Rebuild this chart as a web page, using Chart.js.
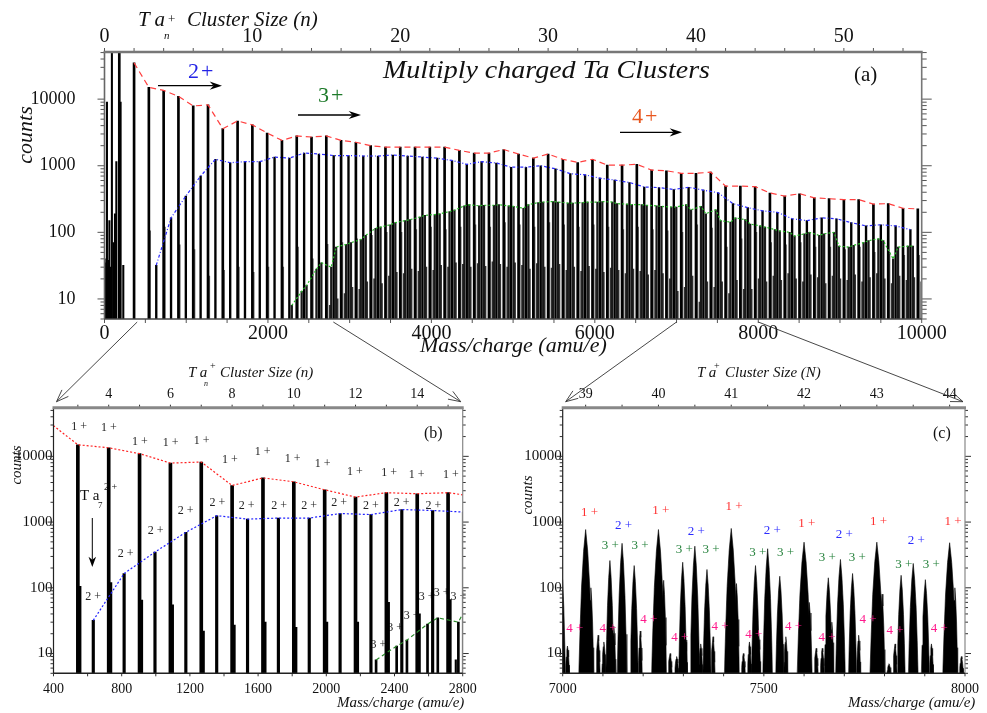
<!DOCTYPE html>
<html>
<head>
<meta charset="utf-8">
<title>Multiply charged Ta Clusters</title>
<script src="https://cdn.jsdelivr.net/npm/chart.js@4.4.1/dist/chart.umd.min.js"></script>
<style>
  html, body { margin: 0; background: #fff; }
  #page { position: relative; width: 987px; height: 713px; overflow: hidden;
          font-family: 'Liberation Serif', 'Times New Roman', serif; color: #111; }
  #page canvas { position: absolute; }
  #page svg { position: absolute; left: 0; top: 0; }
  .t { position: absolute; white-space: nowrap; line-height: 1; }
  .it { font-style: italic; }
  .rot { transform: translate(-50%, -50%) rotate(-90deg); }
</style>
</head>
<body>
<div id="page">
  <canvas id="panelA" width="987" height="360" style="left:0;top:0"></canvas>
  <canvas id="panelB" width="493" height="353" style="left:0;top:360px"></canvas>
  <canvas id="panelC" width="494" height="353" style="left:493px;top:360px"></canvas>
  <svg id="marks" width="987" height="713"></svg>

  <!-- (a) -->
  <div class="t it" style="left:138px;top:9px;font-size:21px">T a</div>
  <div class="t" style="left:168px;top:12px;font-size:13px">+</div>
  <div class="t it" style="left:164px;top:30px;font-size:11px">n</div>
  <div class="t it" style="left:187px;top:9px;font-size:21px">Cluster Size (n)</div>
  <div class="t it" style="left:383px;top:57px;font-size:25px;transform:scaleX(1.12);transform-origin:0 0">Multiply charged Ta Clusters</div>
  <div class="t" style="left:854px;top:64px;font-size:21px">(a)</div>
  <div class="t" style="left:188px;top:60px;font-size:22px;color:#2323e6;letter-spacing:2px">2+</div>
  <div class="t" style="left:318px;top:84px;font-size:22px;color:#1e7a2a;letter-spacing:2px">3+</div>
  <div class="t" style="left:632px;top:105px;font-size:22px;color:#e8561e;letter-spacing:2px">4+</div>
  <div class="t it rot" style="left:25px;top:135px;font-size:22px">counts</div>
  <div class="t it" style="left:420px;top:334px;font-size:22px">Mass/charge (amu/e)</div>

  <!-- (b) -->
  <div class="t it" style="left:188px;top:365px;font-size:15px">T a</div>
  <div class="t" style="left:210px;top:361px;font-size:10px">+</div>
  <div class="t it" style="left:204px;top:380px;font-size:8px">n</div>
  <div class="t it" style="left:220px;top:365px;font-size:15px">Cluster Size (n)</div>
  <div class="t it rot" style="left:16px;top:465px;font-size:15px">counts</div>
  <div class="t it" style="left:337px;top:695px;font-size:15px">Mass/charge (amu/e)</div>
  <div class="t" style="left:424px;top:425px;font-size:16px">(b)</div>
  <div class="t" style="left:80px;top:488px;font-size:15px">T a</div>
  <div class="t" style="left:98px;top:501px;font-size:9px">7</div>
  <div class="t" style="left:104px;top:482px;font-size:10px">2 +</div>

  <!-- (c) -->
  <div class="t it" style="left:697px;top:365px;font-size:15px">T a</div>
  <div class="t" style="left:714px;top:361px;font-size:10px">+</div>
  <div class="t it" style="left:725px;top:365px;font-size:15px">Cluster Size (N)</div>
  <div class="t it rot" style="left:527px;top:495px;font-size:15px">counts</div>
  <div class="t it" style="left:848px;top:695px;font-size:15px">Mass/charge (amu/e)</div>
  <div class="t" style="left:933px;top:425px;font-size:16px">(c)</div>
</div>

<script>
// ---- values ----
const TA_MASS = 180.95; // amu per Ta atom

// Ta_n+ peak heights, n = 1..55
const onePlus = [60000, 35000, 15000, 13500, 11000, 7900, 8200, 3600, 4700, 4100,
                 3100, 2400, 2800, 2700, 2800, 2400, 2250, 2000, 1900, 1900,
                 1900, 1900, 1900, 1700, 1550, 1550, 1750, 1500, 1300, 1500,
                 1250, 1120, 1250, 1020, 1020, 1050, 860, 840, 770, 770,
                 800, 495, 495, 485, 390, 350, 380, 330, 320, 310,
                 310, 265, 270, 230, 225];
// small shoulder peak just above each Ta_n+ line, n = 3..55
const oneSat = [105, 120, 65, 55, 22, 27, 30, 25, 30, 30,
                60, 40, 66, 70, 80, 90, 100, 100, 110, 120,
                110, 120, 130, 120, 140, 130, 120, 140, 130, 120,
                130, 120, 110, 120, 110, 105, 100, 130, 116, 60,
                80, 100, 70, 65, 70, 60, 60, 55, 60, 50,
                50, 45, 45];
// Ta_n 2+ peaks, odd n = 7..109
const twoPlus = [32, 165, 350, 700, 1250, 1110, 1150, 1150, 1350, 1300,
                 1550, 1500, 1420, 1420, 1400, 1400, 1450, 1400, 1350, 1300,
                 1200, 1050, 1150, 1100, 950, 950, 1000, 900, 760, 730,
                 650, 610, 560, 480, 470, 440, 475, 430, 393, 270,
                 235, 210, 200, 160, 150, 165, 160, 140, 125, 130,
                 125, 110];
// Ta_n 3+ peaks (n not a multiple of 3)
const threePlusN = [38, 40, 41, 43, 44, 46, 47, 49, 50, 52, 53, 55, 56, 58, 59, 61, 62, 64, 65, 67,
                    68, 70, 71, 73, 74, 76, 77, 79, 80, 82, 83, 85, 86, 88, 89, 91, 92, 94, 95, 97,
                    98, 100, 101, 103, 104, 106, 107, 109, 110, 112, 113, 115, 116, 118, 119, 121, 122, 124, 125, 127,
                    128, 130, 131, 133, 134, 136, 137, 139, 140, 142, 143, 145, 146, 148, 149, 151, 152, 154, 155, 157,
                    158, 160, 161, 163, 164];
const threePlus = [8, 13, 16, 28, 35, 30, 60, 66, 70, 78,
                   90, 115, 120, 130, 140, 150, 155, 170, 180, 185,
                   190, 205, 215, 250, 260, 250, 255, 255, 260, 250,
                   245, 230, 260, 280, 285, 290, 285, 275, 275, 280,
                   285, 285, 290, 285, 270, 265, 260, 260, 255, 250,
                   245, 240, 240, 260, 218, 245, 190, 218, 150, 142,
                   165, 155, 133, 125, 120, 110, 105, 100, 88, 95,
                   100, 90, 95, 100, 62, 60, 64, 70, 75, 80,
                   75, 40, 60, 62, 62];
// Ta_n 4+ peaks, odd n = 61..221
const fourPlus = [8, 10, 12, 15, 14, 18, 20, 17, 22, 25,
                  24, 28, 26, 30, 27, 32, 30, 35, 33, 30,
                  34, 31, 36, 33, 30, 35, 32, 28, 34, 30,
                  29, 33, 27, 30, 26, 31, 28, 25, 29, 27,
                  24, 28, 26, 23, 27, 24, 20, 13, 15, 22,
                  9, 18, 15, 18, 12, 19, 14, 14, 20, 18,
                  22, 19, 24, 20, 18, 23, 21, 17, 22, 20,
                  19, 23, 18, 21, 24, 20, 17, 22, 19, 21, 18];
// low-mass ions
const lowMass   = [10, 15, 22, 30, 38, 45, 52, 60, 68, 75, 90.5, 110, 128, 145, 197, 230];
const lowCounts = [35, 28, 40, 9000, 30, 25, 38, 150, 22, 30, 60000, 70, 190, 1150, 9000, 32];
// extra small peaks resolved in the 7000-8000 window
const minorMass   = [7088, 7127, 7267, 7305, 7343, 7449, 7487, 7630, 7669, 7811, 7991];
const minorCounts = [19, 26, 10, 18, 14, 10, 20, 12, 30, 7, 9];

// tick labels
const countLabels = [10, 100, 1000, 10000];
const massLabelsA = [0, 2000, 4000, 6000, 8000, 10000];
const sizeLabelsA = [0, 10, 20, 30, 40, 50];
const massLabelsB = [400, 800, 1200, 1600, 2000, 2400, 2800];
const sizeLabelsB = [4, 6, 8, 10, 12, 14];
const massLabelsC = [7000, 7500, 8000];
const sizeLabelsC = [39, 40, 41, 42, 43, 44];

// peak label anchors [m/z, counts]
const bLabels = [
  { text: '1 +', color: '#222', at: [[550, 28600], [725, 27300], [907, 16900], [1087, 16100], [1269, 17100], [1435, 8700],
      [1627, 11900], [1803, 9300], [1979, 7650], [2168, 5900], [2368, 5600], [2530, 5150], [2730, 5150]] },
  { text: '2 +', color: '#222', at: [[633, 72], [823, 329], [999, 743], [1175, 1500], [1361, 1960], [1533, 1780],
      [1724, 1780], [1900, 1780], [2076, 1960], [2262, 1740], [2442, 1960], [2628, 1780]] },
  { text: '3 +', color: '#222', at: [[2305, 13.7], [2403, 25], [2501, 37], [2589, 73], [2677, 84], [2774, 73]] }
];
const cLabels = [
  { text: '1 +', color: '#ff3030', at: [[7067, 1380], [7244, 1500], [7426, 1740], [7607, 940], [7785, 1007], [7970, 1007]] },
  { text: '2 +', color: '#2b2bff', at: [[7151, 885], [7332, 726], [7521, 743], [7700, 637], [7879, 524]] },
  { text: '3 +', color: '#23803a', at: [[7118, 440], [7192, 440], [7302, 382], [7369, 382], [7485, 348], [7554, 348],
      [7658, 286], [7732, 286], [7848, 226], [7916, 226]] },
  { text: '4 +', color: '#ff1a8c', at: [[7030, 23.8], [7113, 24], [7214, 33], [7291, 17.4], [7391, 26], [7475, 19.3],
      [7574, 25.5], [7657, 17.6], [7759, 33], [7826, 22.4], [7936, 23.8]] }
];

// ---- build peak lists (m/z from cluster size and charge) ----
const peaks = {
  low:   lowMass.map((m, i) => ({ m, h: lowCounts[i] })),
  one:   onePlus.map((h, i) => ({ m: (i + 1) * TA_MASS, h })),
  sat:   oneSat.map((h, i) => ({ m: (i + 3) * TA_MASS + 13, h })),
  two:   twoPlus.map((h, i) => ({ m: (7 + 2 * i) * TA_MASS / 2, h })),
  three: threePlus.map((h, i) => ({ m: threePlusN[i] * TA_MASS / 3, h })),
  four:  fourPlus.map((h, i) => ({ m: (61 + 2 * i) * TA_MASS / 4, h })),
  minor: minorMass.map((m, i) => ({ m, h: minorCounts[i] }))
};

const range = (a, b, s) => { const out = []; for (let v = a; v <= b + 1e-9; v += s) out.push(Math.round(v * 1000) / 1000); return out; };
const countTicks = max => [1, 10, 100, 1000, 10000].flatMap(d => [1, 2, 3, 4, 5, 6, 7, 8, 9].map(k => k * d))
  .filter(v => v >= 5 && v <= max);

Chart.defaults.font.family = "'Liberation Serif', 'Times New Roman', serif";
Chart.defaults.color = '#111';

const spikes = (list, thick, color) => ({
  type: 'bar', xAxisID: 'x', order: 2, grouped: false, barThickness: thick,
  backgroundColor: color, borderWidth: 0,
  data: list.map(p => ({ x: p.m, y: p.h }))
});
const envelope = (list, color, dash, width) => ({
  type: 'line', xAxisID: 'x', order: 0, borderColor: color, borderDash: dash, borderWidth: width || 1.2,
  pointRadius: 0, fill: false, tension: 0,
  data: list.map(p => ({ x: p.m, y: p.h }))
});
// filled peak shape: [height fraction on the log axis, half-width fraction]
const PROFILE = [[0, 1], [0.3, 0.82], [0.6, 0.6], [0.85, 0.3], [1, 0]];
const hill = (p, hw) => {
  const at = (f, w, sgn) => ({ x: p.m + sgn * hw * w, y: 5 * Math.pow(p.h / 5, f) });
  const up = PROFILE.map(([f, w]) => at(f, w, -1));
  const down = PROFILE.slice(0, -1).reverse().map(([f, w]) => at(f, w, 1));
  return {
    type: 'line', order: 1, fill: 'start', backgroundColor: '#000', borderColor: '#000', borderWidth: 0.6,
    pointRadius: 0, tension: 0, data: up.concat(down)
  };
};

// ---- axis frame and tick marks ----
const framePlugin = {
  id: 'frame',
  afterDatasetsDraw(chart, args, o) {
    const { ctx, chartArea: a, scales } = chart;
    const seg = (x1, y1, x2, y2) => { ctx.beginPath(); ctx.moveTo(x1, y1); ctx.lineTo(x2, y2); ctx.stroke(); };
    ctx.save();
    ctx.strokeStyle = o.tickColor;
    ctx.lineWidth = 1;
    scales.y.ticks.forEach(t => {
      const p = scales.y.getPixelForValue(t.value);
      const major = countLabels.includes(t.value);
      seg(a.left - (major ? o.left[0] : o.left[1]), p, a.left, p);
      seg(a.right, p, a.right + (major ? o.right[0] : o.right[1]), p);
    });
    scales.x.ticks.forEach(t => {
      const p = scales.x.getPixelForValue(t.value);
      seg(p, a.bottom, p, a.bottom + o.bottom);
    });
    scales.x2.ticks.forEach(t => {
      const p = scales.x2.getPixelForValue(t.value);
      seg(p, a.top, p, a.top - o.top);
    });
    const side = (s, x1, y1, x2, y2) => { ctx.strokeStyle = s[0]; ctx.lineWidth = s[1]; seg(x1, y1, x2, y2); };
    side(o.frame.left, a.left, a.top, a.left, a.bottom);
    side(o.frame.right, a.right, a.top, a.right, a.bottom);
    side(o.frame.bottom, a.left, a.bottom, a.right, a.bottom);
    side(o.frame.top, a.left - 1, a.top, a.right + 1, a.top);
    ctx.restore();
  }
};

// peak labels: drawn under the peaks in (b), over them in (c)
const drawPeakLabels = (chart, o) => {
  const { ctx, scales: { x, y } } = chart;
  ctx.save();
  ctx.font = o.font;
  ctx.textAlign = 'center';
  ctx.textBaseline = 'middle';
  o.groups.forEach(g => {
    ctx.fillStyle = g.color;
    g.at.forEach(([m, c]) => ctx.fillText(g.text, x.getPixelForValue(m), y.getPixelForValue(c)));
  });
  ctx.restore();
};
const peakLabelPlugin = {
  id: 'peakLabels',
  beforeDatasetsDraw(chart, args, o) { if (o.groups && !o.onTop) drawPeakLabels(chart, o); },
  afterDatasetsDraw(chart, args, o) { if (o.groups && o.onTop) drawPeakLabels(chart, o); }
};

function makePanel(id, p) {
  const noGrid = { display: false, drawTicks: false, tickLength: 0 };
  const xTicks = (labels, size, pad) => ({
    autoSkip: false, maxRotation: 0, minRotation: 0, padding: pad, font: { size },
    callback: v => labels.includes(v) ? String(v) : ''
  });
  return new Chart(document.getElementById(id), {
    type: p.type,
    data: { datasets: p.datasets },
    plugins: [framePlugin, peakLabelPlugin],
    options: {
      responsive: false, animation: false, devicePixelRatio: 1,
      layout: { padding: { left: 0, top: 0, bottom: 0, right: p.box.right } },
      plugins: {
        legend: { display: false }, tooltip: { enabled: false },
        frame: p.frame,
        peakLabels: p.labels || {}
      },
      scales: {
        x: {
          type: 'linear', position: 'bottom', bounds: 'data', offset: false,
          min: p.xMin, max: p.xMax, grid: noGrid, border: { display: false },
          ticks: xTicks(p.massLabels, p.font.x, p.pad.bottom),
          afterBuildTicks: s => { s.ticks = p.massTicks.map(v => ({ value: v })); },
          afterFit: s => { s.height = p.box.bottom; }
        },
        x2: {
          type: 'linear', axis: 'x', position: 'top', bounds: 'data', offset: false,
          min: p.xMin / TA_MASS, max: p.xMax / TA_MASS, grid: noGrid, border: { display: false },
          ticks: xTicks(p.sizeLabels, p.font.x, p.pad.top),
          afterBuildTicks: s => { s.ticks = p.sizeTicks.map(v => ({ value: v })); },
          afterFit: s => { s.height = p.box.top; }
        },
        y: {
          type: 'logarithmic', position: 'left', min: 5, max: p.yMax,
          grid: noGrid, border: { display: false },
          ticks: {
            autoSkip: false, padding: p.pad.left, font: { size: p.font.y },
            callback: v => countLabels.includes(v) ? String(v) : ''
          },
          afterBuildTicks: s => { s.ticks = countTicks(p.yMax).map(v => ({ value: v })); },
          afterFit: s => { s.width = p.box.left; }
        }
      }
    }
  });
}

// (a) full spectrum
const chartA = makePanel('panelA', {
  type: 'bar', xMin: 0, xMax: 10000, yMax: 51000,
  massTicks: range(0, 10000, 500), massLabels: massLabelsA,
  sizeTicks: range(0, 54, 2), sizeLabels: sizeLabelsA,
  box: { left: 104.5, right: 65.3, top: 52, bottom: 41 },
  pad: { left: 29, bottom: 3, top: 3 },
  font: { x: 20, y: 18 },
  frame: {
    tickColor: '#555', left: [7, 4], right: [10, 5], bottom: 4, top: 4,
    frame: { left: ['#666', 1.6], right: ['#777', 1.6], bottom: ['#444', 1.6], top: ['#777', 2.4] }
  },
  datasets: [
    envelope(peaks.one.slice(1), '#ff4040', [6, 4]),
    envelope(peaks.two, '#2b2bff', [3, 2, 1, 2]),
    envelope(peaks.three, '#22bb22', [2, 2]),
    spikes(peaks.low, 1.4, '#000'),
    spikes(peaks.one, 2, '#000'),
    spikes(peaks.sat, 1.4, '#5a5a5a'),
    spikes(peaks.two, 1.7, '#000'),
    spikes(peaks.three, 1.6, '#1a1a1a'),
    spikes(peaks.four, 1.5, '#333')
  ]
});

// (b) low-mass zoom
const chartB = makePanel('panelB', {
  type: 'bar', xMin: 400, xMax: 2800, yMax: 55000,
  massTicks: range(400, 2800, 200), massLabels: massLabelsB,
  sizeTicks: range(3, 15, 1), sizeLabels: sizeLabelsB,
  box: { left: 53.5, right: 30.3, top: 47.7, bottom: 39.7 },
  pad: { left: 1, bottom: 8, top: 5 },
  font: { x: 14, y: 15 },
  frame: {
    tickColor: '#333', left: [6, 3], right: [6, 3], bottom: 3, top: 3,
    frame: { left: ['#222', 1.2], right: ['#888', 1.2], bottom: ['#222', 1.4], top: ['#888', 3] }
  },
  labels: { font: '12px "Liberation Serif"', groups: bLabels, onTop: false },
  datasets: [
    envelope(peaks.one.slice(1), '#ff2020', [2, 2]),
    envelope(peaks.two, '#2020ff', [2, 2]),
    envelope(peaks.three, '#2a8a2a', [4, 3]),
    spikes(peaks.one, 3, '#000'),
    spikes(peaks.sat, 2, '#000'),
    spikes(peaks.two, 2.5, '#000'),
    spikes(peaks.three, 2, '#000'),
    spikes(peaks.four, 1.5, '#000')
  ]
});

// (c) high-mass zoom, resolved peak shapes
const halfWidth = { one: 17, sat: 7, two: 12, three: 10, four: 5, minor: 5 };
const hillsC = [];
Object.keys(halfWidth).forEach(k => {
  peaks[k].forEach(p => {
    const hw = halfWidth[k];
    if (p.m + hw > 7000 && p.m - hw < 8000 && p.h > 5) hillsC.push(hill(p, hw));
  });
});
const chartC = makePanel('panelC', {
  type: 'line', xMin: 7000, xMax: 8000, yMax: 55000,
  massTicks: range(7000, 8000, 100), massLabels: massLabelsC,
  sizeTicks: range(39, 44, 0.5), sizeLabels: sizeLabelsC,
  box: { left: 69.7, right: 16.3, top: 47.7, bottom: 39.7 },
  pad: { left: 1, bottom: 8, top: 5 },
  font: { x: 14, y: 15 },
  frame: {
    tickColor: '#333', left: [6, 3], right: [6, 3], bottom: 3, top: 3,
    frame: { left: ['#222', 1.2], right: ['#888', 1.2], bottom: ['#222', 1.4], top: ['#888', 3] }
  },
  labels: { font: '13px "Liberation Serif"', groups: cLabels, onTop: true },
  datasets: hillsC
});

// ---- connector lines and arrows ----
const svg = document.getElementById('marks');
const NS = 'http://www.w3.org/2000/svg';
function el(tag, attrs) {
  const e = document.createElementNS(NS, tag);
  Object.keys(attrs).forEach(k => e.setAttribute(k, attrs[k]));
  svg.appendChild(e);
  return e;
}
function arrow(x1, y1, x2, y2, o) {
  const ang = Math.atan2(y2 - y1, x2 - x1);
  const wing = s => [x2 - o.head * Math.cos(ang + s), y2 - o.head * Math.sin(ang + s)];
  const [ax, ay] = wing(o.spread), [bx, by] = wing(-o.spread);
  if (o.filled) {
    const nx = x2 - o.head * 0.65 * Math.cos(ang), ny = y2 - o.head * 0.65 * Math.sin(ang);
    el('line', { x1, y1, x2: nx, y2: ny, stroke: o.color, 'stroke-width': o.width });
    el('path', { d: `M${x2},${y2} L${ax},${ay} L${nx},${ny} L${bx},${by} Z`, fill: o.color });
  } else {
    el('line', { x1, y1, x2, y2, stroke: o.color, 'stroke-width': o.width });
    el('polyline', { points: `${ax},${ay} ${x2},${y2} ${bx},${by}`, fill: 'none', stroke: o.color, 'stroke-width': o.width });
  }
}
const solid = { head: 13, spread: 0.32, filled: true, color: '#000', width: 1.3 };
const open = { head: 13, spread: 0.36, filled: false, color: '#333', width: 0.9 };
arrow(158, 85.7, 222, 85.7, solid);
arrow(298, 115, 361, 115, solid);
arrow(620, 132.3, 682, 132.3, solid);
arrow(92.3, 518, 92.3, 567, { head: 11, spread: 0.35, filled: true, color: '#000', width: 1 });

const aBottom = chartA.chartArea.bottom + 3;
const ax = v => chartA.scales.x.getPixelForValue(v);
const bA = chartB.chartArea, cA = chartC.chartArea;
arrow(ax(400), aBottom, bA.left + 3, 360 + bA.top - 6, open);
arrow(ax(2800), aBottom, bA.right - 2, 360 + bA.top - 6, open);
arrow(ax(7000), aBottom, 493 + cA.left + 3, 360 + cA.top - 6, open);
arrow(ax(8000), aBottom, 493 + cA.right - 2, 360 + cA.top - 6, open);
</script>
</body>
</html>
